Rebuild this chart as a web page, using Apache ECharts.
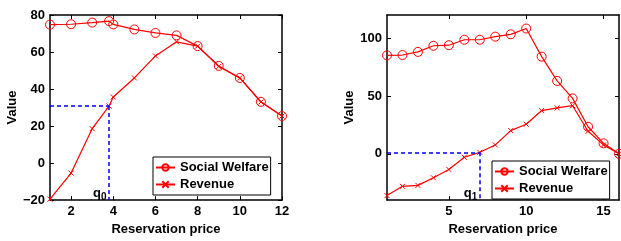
<!DOCTYPE html>
<html>
<head>
<meta charset="utf-8">
<script src="https://cdn.jsdelivr.net/npm/echarts@6/dist/echarts.min.js"></script>
<style>
  html, body { margin: 0; padding: 0; background: #fff; }
  #chart { width: 621px; height: 241px; }
</style>
</head>
<body>
<div id="chart"></div>
<script>
// left panel
const leftPrice = [1, 2, 3, 3.8, 4, 5, 6, 7, 8, 9, 10, 11, 12]
const leftWelfare = [74.8, 75, 75.9, 76.7, 74.9, 72.2, 70.3, 69, 63.2, 52.5, 46, 33.1, 25.4]
const leftRevenue = [-19.5, -5.4, 18.6, 30.8, 35.7, 46, 57.9, 65.5, 63.2, 52.2, 46, 33, 25.4]
const leftXTicks = [2, 4, 6, 8, 10, 12]
const leftYTicks = [-20, 0, 20, 40, 60, 80]
const q0 = [3.8, 30.8]

// right panel
const rightPrice = [1, 2, 3, 4, 5, 6, 7, 8, 9, 10, 11, 12, 13, 14, 15, 16]
const rightWelfare = [85.1, 85.4, 88.1, 93.4, 93.9, 98.6, 98.6, 101.3, 103.3, 108.3, 84, 63, 47.9, 23.4, 9.1, 0]
const rightRevenue = [-36.1, -28.1, -27.3, -20.7, -13.5, -3, 1.3, 7.7, 20.1, 25.6, 37.4, 39.7, 41.6, 19.5, 7.7, 0]
const rightXTicks = [5, 10, 15]
const rightYTicks = [0, 50, 100]
const q1 = [7, 1.3]

const FONT = 'Liberation Sans'
const RED = '#ff0000'
const CROSS = 'path://M0,0L10,10M10,0L0,10'

function pairs(xs, ys) {
  return xs.map((x, i) => [x, ys[i]])
}

function axis(grid, position, min, max, ticks, showLabel, name, nameGap) {
  return {
    type: 'value',
    gridIndex: grid,
    position: position,
    min: min,
    max: max,
    name: name || '',
    nameLocation: 'middle',
    nameGap: nameGap || 0,
    nameTextStyle: { color: '#000', fontWeight: 'bold', fontSize: 13, fontFamily: FONT },
    axisLine: { show: true, onZero: false, lineStyle: { color: '#000', width: 1.5 } },
    axisTick: { show: true, inside: true, length: 4, customValues: ticks, lineStyle: { color: '#000' } },
    axisLabel: {
      show: showLabel,
      customValues: ticks,
      margin: 5,
      color: '#000',
      fontWeight: 'bold',
      fontSize: 13,
      fontFamily: FONT,
      formatter: v => (v < 0 ? '\u2212' + (-v) : String(v))
    },
    splitLine: { show: false }
  }
}

// welfare sits on the mirrored top/right axes (same scale) so those get drawn too
function welfare(data, ai) {
  return {
    name: 'Social Welfare',
    type: 'line',
    xAxisIndex: ai,
    yAxisIndex: ai,
    data: data,
    symbol: 'circle',
    symbolSize: 9,
    lineStyle: { color: RED, width: 1.2 },
    itemStyle: { color: 'transparent', borderColor: RED, borderWidth: 1 }
  }
}

function revenue(data, ai, q, yMin, sub) {
  return {
    name: 'Revenue',
    type: 'line',
    xAxisIndex: ai,
    yAxisIndex: ai,
    data: data,
    symbol: CROSS,
    symbolSize: 5,
    lineStyle: { color: RED, width: 1.2 },
    itemStyle: { color: RED, borderColor: RED, borderWidth: 1 },
    markLine: {
      silent: true,
      symbol: 'none',
      label: { show: false },
      lineStyle: { color: '#0000ff', width: 1.5, type: [4, 3] },
      data: [
        [{ coord: [data[0][0], q[1]] }, { coord: q }],
        [{ coord: q }, { coord: [q[0], yMin] }]
      ]
    },
    markPoint: {
      silent: true,
      symbol: 'circle',
      symbolSize: 1,
      itemStyle: { color: 'transparent' },
      data: [{ coord: [q[0], yMin] }],
      label: {
        show: true,
        position: 'left',
        distance: 2,
        offset: [0, -7],
        formatter: '{q|q}{s|' + sub + '}',
        rich: {
          q: { fontSize: 13, fontWeight: 'bold', fontFamily: FONT, color: '#000' },
          s: { fontSize: 10, fontWeight: 'bold', fontFamily: FONT, color: '#000', padding: [8, 0, 0, 0] }
        }
      }
    }
  }
}

function legend(left, top) {
  return {
    left: left,
    top: top,
    orient: 'vertical',
    data: ['Social Welfare', 'Revenue'],
    padding: [3, 2, 3, 2],
    itemGap: 2,
    itemWidth: 19,
    itemHeight: 8,
    borderColor: '#000',
    borderWidth: 1,
    backgroundColor: '#fff',
    selectedMode: false,
    textStyle: { color: '#000', fontWeight: 'bold', fontSize: 13, fontFamily: FONT, lineHeight: 15 }
  }
}

const chart = echarts.init(document.getElementById('chart'))
chart.setOption({
  animation: false,
  backgroundColor: '#fff',
  grid: [
    { left: 50, top: 15, width: 232, height: 192 },
    { left: 387, top: 15, width: 232, height: 193 }
  ],
  xAxis: [
    axis(0, 'bottom', 1, 12, leftXTicks, true, 'Reservation price', 16),
    axis(0, 'top', 1, 12, leftXTicks, false),
    axis(1, 'bottom', 1, 16, rightXTicks, true, 'Reservation price', 16),
    axis(1, 'top', 1, 16, rightXTicks, false)
  ],
  yAxis: [
    axis(0, 'left', -20, 80, leftYTicks, true, 'Value', 30),
    axis(0, 'right', -20, 80, leftYTicks, false),
    axis(1, 'left', -40, 120, rightYTicks, true, 'Value', 27),
    axis(1, 'right', -40, 120, rightYTicks, false)
  ],
  legend: [legend(153, 157), legend(492, 161)],
  series: [
    welfare(pairs(leftPrice, leftWelfare), 1),
    revenue(pairs(leftPrice, leftRevenue), 0, q0, -20, '0'),
    welfare(pairs(rightPrice, rightWelfare), 3),
    revenue(pairs(rightPrice, rightRevenue), 2, q1, -40, '1')
  ]
})
</script>
</body>
</html>
